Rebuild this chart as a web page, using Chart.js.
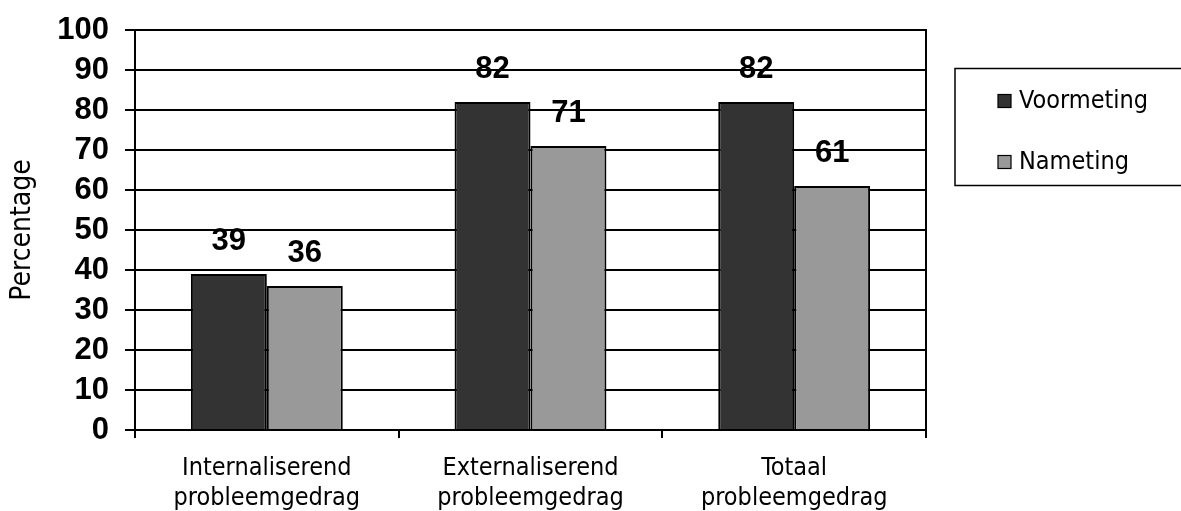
<!DOCTYPE html>
<html>
<head>
<meta charset="utf-8">
<script src="https://cdn.jsdelivr.net/npm/chart.js@4.4.1/dist/chart.umd.min.js"></script>
<style>
  html, body { margin: 0; padding: 0; background: #ffffff; }
  #wrap { width: 1181px; height: 511px; position: relative; }
</style>
</head>
<body>
<div id="wrap"><canvas id="chart" width="1181" height="511"></canvas></div>
<script>
// Categories (two-line labels) and series values
const categories = [
  ['Internaliserend', 'probleemgedrag'],
  ['Externaliserend', 'probleemgedrag'],
  ['Totaal', 'probleemgedrag']
];
const seriesNames = ['Voormeting', 'Nameting'];
const voormeting = [39, 82, 82];
const nameting = [36, 71, 61];
const yTicks = [0, 10, 20, 30, 40, 50, 60, 70, 80, 90, 100];
const yTitle = 'Percentage';

const labelFamily = "'DejaVu Sans Condensed', 'DejaVu Sans', sans-serif";
const numberFamily = "'Liberation Sans', Arial, sans-serif";

// Closing line on the right edge of the plot area
const rightEdge = {
  id: 'rightEdge',
  beforeDatasetsDraw(chart) {
    const { ctx, chartArea } = chart;
    ctx.save();
    ctx.strokeStyle = '#000';
    ctx.lineWidth = 2;
    ctx.beginPath();
    ctx.moveTo(chartArea.right, chartArea.top - 1);
    ctx.lineTo(chartArea.right, chartArea.bottom);
    ctx.stroke();
    ctx.restore();
  }
};

// Value labels drawn above each bar
const valueLabels = {
  id: 'valueLabels',
  afterDatasetsDraw(chart) {
    const ctx = chart.ctx;
    ctx.save();
    ctx.font = 'bold 31px ' + numberFamily;
    ctx.fillStyle = '#000';
    ctx.textAlign = 'center';
    ctx.textBaseline = 'alphabetic';
    chart.data.datasets.forEach((ds, di) => {
      const meta = chart.getDatasetMeta(di);
      meta.data.forEach((bar, i) => {
        ctx.fillText(String(ds.data[i]), bar.x, bar.y - 24);
      });
    });
    ctx.restore();
  }
};

// Boxed legend on the right-hand side
const boxLegend = {
  id: 'boxLegend',
  afterDraw(chart) {
    const ctx = chart.ctx;
    ctx.save();
    ctx.lineWidth = 1.5;
    ctx.strokeStyle = '#000';
    ctx.strokeRect(955, 68.5, 240, 117);
    ctx.font = '25px ' + labelFamily;
    ctx.textBaseline = 'middle';
    ctx.textAlign = 'left';
    const rows = [101, 162];
    chart.data.datasets.forEach((ds, di) => {
      const y = rows[di];
      ctx.fillStyle = ds.backgroundColor;
      ctx.fillRect(998, y - 6.5, 13, 13);
      ctx.lineWidth = 1.2;
      ctx.strokeStyle = '#000';
      ctx.strokeRect(998, y - 6.5, 13, 13);
      ctx.fillStyle = '#000';
      ctx.fillText(ds.label, 1019, y);
    });
    ctx.restore();
  }
};

new Chart(document.getElementById('chart'), {
  type: 'bar',
  data: {
    labels: categories,
    datasets: [
      { label: seriesNames[0], data: voormeting, backgroundColor: '#333333', borderColor: '#000', borderWidth: 2 },
      { label: seriesNames[1], data: nameting, backgroundColor: '#999999', borderColor: '#000', borderWidth: 2 }
    ]
  },
  options: {
    responsive: false,
    animation: false,
    events: [],
    layout: { padding: { top: 30, right: 255, left: 0, bottom: 0 } },
    datasets: { bar: { categoryPercentage: 0.576, barPercentage: 1.0 } },
    plugins: {
      legend: { display: false },
      tooltip: { enabled: false }
    },
    scales: {
      x: {
        afterFit(scale) { scale.height = 81; },
        grid: { drawOnChartArea: false, drawTicks: true, tickLength: 8, color: '#000', lineWidth: 2 },
        border: { display: true, color: '#000', width: 2 },
        ticks: {
          color: '#000',
          font: { family: labelFamily, size: 25, lineHeight: 1.22 },
          padding: 15,
          maxRotation: 0,
          autoSkip: false
        }
      },
      y: {
        min: 0,
        max: 100,
        afterFit(scale) {
          scale.width = 135;
          scale.paddingTop = 0;
          scale.paddingBottom = 0;
        },
        afterBuildTicks(scale) { scale.ticks = yTicks.map(v => ({ value: v })); },
        grid: { color: '#000', lineWidth: 2, drawTicks: true, tickLength: 10 },
        border: { display: true, color: '#000', width: 2 },
        ticks: {
          color: '#000',
          font: { family: numberFamily, size: 31, weight: 'bold' },
          padding: 16,
          autoSkip: false
        },
        title: {
          display: true,
          text: yTitle,
          color: '#000',
          font: { family: labelFamily, size: 28 },
          padding: { top: 6, bottom: 0 }
        }
      }
    }
  },
  plugins: [rightEdge, valueLabels, boxLegend]
});
</script>
</body>
</html>
